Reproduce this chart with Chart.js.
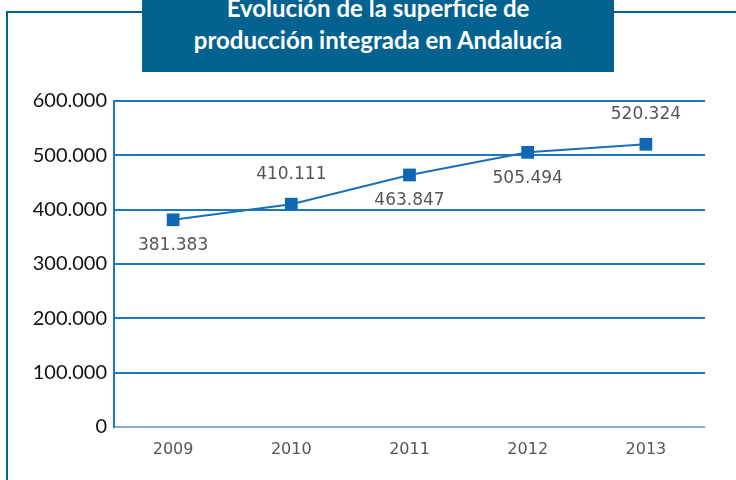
<!DOCTYPE html>
<html><head><meta charset="utf-8">
<script src="https://cdn.jsdelivr.net/npm/chart.js@4/dist/chart.umd.min.js"></script>
<style>
html,body{margin:0;padding:0;background:#fff;overflow:hidden;}
#wrap{position:relative;width:736px;height:480px;overflow:hidden;}
#frame{position:absolute;left:6px;top:11px;width:760px;height:520px;border:2px solid #05628f;box-sizing:border-box;}
#title{position:absolute;left:142px;top:-16px;width:472px;height:88px;background:#03628f;color:#fff;
 font-family:Lato,sans-serif;font-weight:bold;font-size:24px;line-height:32px;text-align:center;box-sizing:border-box;padding-top:8px;}
canvas{position:absolute;left:0;top:0;}
</style></head>
<body><div id="wrap">
<div id="frame"></div>
<div id="title">Evolución de la superficie de<br>producción integrada en Andalucía</div>
<canvas id="c" width="736" height="480"></canvas>
</div>
<script>
const categories = ['2009','2010','2011','2012','2013'];
const superficie = [381383, 410111, 463847, 505494, 520324];
const labelPlacement = ['below','above','below','below','above'];
const yTicks = [0,100000,200000,300000,400000,500000,600000];

function fmt(v){ return v.toString().replace(/\B(?=(\d{3})+(?!\d))/g,'.'); }

const dataLabels = {
  id:'dataLabels',
  afterDatasetsDraw(chart){
    const ctx = chart.ctx;
    const meta = chart.getDatasetMeta(0);
    ctx.save();
    ctx.font = '17px "DejaVu Sans"';
    ctx.fillStyle = '#555';
    ctx.textAlign = 'center';
    ctx.textBaseline = 'middle';
    meta.data.forEach((pt,i)=>{
      const dy = labelPlacement[i]==='above' ? -30 : 26;
      ctx.fillText(fmt(superficie[i]), pt.x, pt.y + dy);
    });
    ctx.restore();
  }
};

new Chart(document.getElementById('c'), {
  type:'line',
  data:{ labels:categories, datasets:[{
    data:superficie, borderColor:'#1b6fb6', borderWidth:2,
    pointStyle:'rect', pointRadius:9, pointHoverRadius:9,
    pointBackgroundColor:'#0e67b0', pointBorderColor:'#0e67b0', pointBorderWidth:0,
    tension:0
  }]},
  options:{
    responsive:false, animation:false,
    layout:{padding:{top:101,right:31,left:0,bottom:0}},
    plugins:{legend:{display:false}, tooltip:{enabled:false}, title:{display:false}},
    scales:{
      x:{
        offset:true,
        grid:{display:false, drawTicks:false},
        border:{display:false},
        ticks:{color:'#555', font:{family:'DejaVu Sans', size:16}, padding:13},
        afterFit(s){ s.height = 53; }
      },
      y:{
        min:0, max:600000,
        afterBuildTicks(s){ s.ticks = yTicks.map(v=>({value:v})); },
        grid:{drawTicks:false, lineWidth:2, color:(c)=> c.tick && c.tick.value===0 ? '#84abdb' : '#1e77c0'},
        border:{display:true, color:'#1e77c0', width:2},
        ticks:{color:'#111', font:{family:'Lato', size:20}, padding:7, callback:(v)=>fmt(v)},
        afterFit(s){ s.width = 114; }
      }
    }
  },
  plugins:[dataLabels]
});
</script>
</body></html>
